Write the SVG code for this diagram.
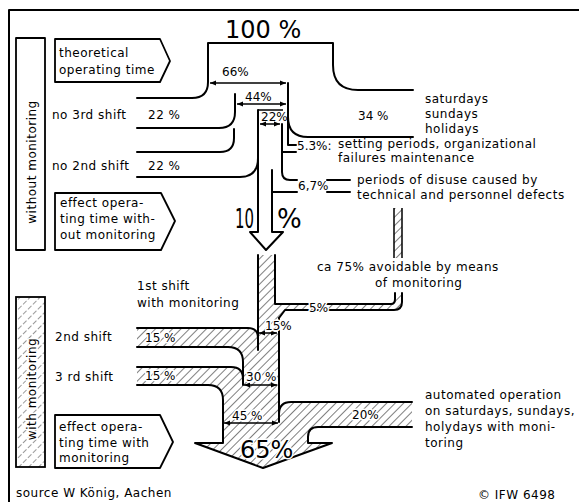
<svg xmlns="http://www.w3.org/2000/svg" width="579" height="502" viewBox="0 0 579 502">
<defs>
<style>
.t{font-family:"DejaVu Sans","Liberation Sans",sans-serif;font-size:12px;letter-spacing:0.5px;fill:#000}
.p{font-family:"DejaVu Sans","Liberation Sans",sans-serif;font-size:12px;fill:#000}
.w{stroke:#fff;stroke-width:3;paint-order:stroke;stroke-linejoin:round}
.big{font-family:"DejaVu Sans","Liberation Sans",sans-serif;fill:#000}
.ln{fill:none;stroke:#000;stroke-width:2;stroke-linecap:round;stroke-linejoin:round}
.thin{fill:none;stroke:#000;stroke-width:1.5}
.box{fill:#fff;stroke:#000;stroke-width:1.8;stroke-linejoin:round}
.dim{fill:none;stroke:#000;stroke-width:1.5;marker-start:url(#ah);marker-end:url(#ah)}
</style>
<pattern id="hatch" width="6" height="6" patternUnits="userSpaceOnUse" patternTransform="rotate(45)"><line x1="0" y1="0" x2="0" y2="6" stroke="#000" stroke-width="1"/></pattern>
<pattern id="hatch2" width="7" height="7" patternUnits="userSpaceOnUse" patternTransform="rotate(45)"><line x1="0" y1="0" x2="0" y2="7" stroke="#000" stroke-width="0.8" stroke-dasharray="3 2"/></pattern>
<marker id="ah" viewBox="0 0 6 6" refX="6" refY="3" markerWidth="6" markerHeight="6" orient="auto-start-reverse" markerUnits="userSpaceOnUse"><path d="M0,0.5 L6,3 L0,5.5 Z"/></marker>
</defs>
<rect width="579" height="502" fill="#fff"/>
<path class="ln" d="M9,502 V10 H579"/>

<g id="side-without">
<rect x="16" y="38" width="29" height="212" class="box"/>
<text class="t" transform="translate(36,162) rotate(-90)" text-anchor="middle">without monitoring</text>
</g>
<g id="side-with">
<rect x="16" y="297" width="29" height="170" fill="url(#hatch2)" stroke="#000" stroke-width="1.8"/>
<text class="t w" transform="translate(36,389) rotate(-90)" text-anchor="middle">with monitoring</text>
</g>

<g id="theoretical">
<path class="box" d="M55,39 H160 L170,61 L160,82 H55 Z"/>
<text class="t" x="59" y="57">theoretical</text>
<text class="t" x="59" y="74">operating time</text>
</g>
<g id="effect-without">
<path class="box" d="M55,193 H161 L175,221 L161,250 H55 Z"/>
<text class="t" x="60" y="207">effect opera-</text>
<text class="t" x="60" y="223">ting time with-</text>
<text class="t" x="60" y="239">out monitoring</text>
</g>
<g id="effect-with">
<path class="box" d="M55,415 H160 L173,442 L160,468 H55 Z"/>
<text class="t" x="59" y="431">effect opera-</text>
<text class="t" x="59" y="447">ting time with</text>
<text class="t" x="59" y="462">monitoring</text>
</g>

<g id="labels-left">
<text class="t" x="52" y="119">no 3rd shift</text>
<text class="t" x="148" y="119">22 %</text>
<text class="t" x="52" y="170">no 2nd shift</text>
<text class="t" x="148" y="170">22 %</text>
<text class="t" x="137" y="290">1st shift</text>
<text class="t" x="137" y="307">with monitoring</text>
<text class="t" x="55" y="341">2nd shift</text>
<text class="t" x="55" y="381">3 rd shift</text>
</g>

<g id="connectors">
<path class="ln" d="M137,98 H192 Q208,98 208,82 V43 H333 V65 Q333,90 358,90 H413"/>
<path class="ln" d="M235,94 V112 Q235,128 219,128 H137"/>
<path class="ln" d="M234,129 V138 Q234,152 220,152 H137"/>
<path class="ln" d="M258,158 Q258,177 240,177 H137"/>
<path class="ln" d="M258,110 V232 H250 L266,250 L283,232 H272 V170"/>
<path class="thin" d="M258,110 H283"/>
<path class="ln" d="M288,83 V145 H296"/>
<path class="ln" d="M288,117 Q288,137 308,137 H413"/>
<path class="ln" d="M282,124 V152 H296"/>
<path class="ln" d="M282,152 V172 Q282,180 290,180 H297"/>
<path class="ln" d="M272,192 H297"/>
<path class="ln" d="M327,180 H350 M327,192 H350"/>
<path class="dim" d="M210,83 H286"/>
<path class="dim" d="M237,104 H286"/>
<path class="dim" d="M260,124 H280"/>

<path d="M258,255 H275 V304 H391 Q395,304 395,299 V293 H402 V302 Q402,310 394,310 H285 L279,318 V414 Q279,402 291,402 H412 V427 H318 Q308,427 308,437 V443 H332 L263,468 L195,443 H223 V400 Q223,385 208,385 H137 V367 H231 Q243,367 243,379 V362 Q243,347 228,347 H137 V328 H248 Q258,328 258,338 Z" fill="url(#hatch)"/>
<path class="ln" d="M258,255 V350"/>
<path class="ln" d="M275,255 V304 H308 M327,304 H391 Q395,304 395,299 V293"/>
<path class="ln" d="M279,318 L285,310 H394 Q402,310 402,302 V293"/>
<path class="ln" d="M279,318 V422"/>
<path class="ln" d="M279,414 Q279,402 291,402 H412"/>
<path class="ln" d="M412,427 H318 Q308,427 308,437 V443 H332 L263,468 L195,443 H223 V400 Q223,385 208,385 H137"/>
<path class="ln" d="M137,367 H231 Q243,367 243,379"/>
<path class="ln" d="M137,347 H228 Q243,347 243,362 V385"/>
<path class="ln" d="M137,328 H248 Q258,328 258,338"/>
<path class="dim" d="M259,333 H277"/>
<path class="dim" d="M244,385 H277"/>
<path class="dim" d="M224,423 H278"/>
<rect x="394" y="208" width="8" height="50" fill="url(#hatch)"/>
<path class="thin" d="M394,208 V258 M402,208 V258"/>
</g>

<g id="values">
<text class="big" x="225" y="38" font-size="24">100 %</text>
<text class="p" x="222" y="76">66%</text>
<text class="p" x="245" y="101">44%</text>
<text class="p" x="261" y="121">22%</text>
<text class="p" x="358" y="120">34 %</text>
<text class="p" x="297" y="150" font-size="11">5.3%:</text>
<text class="p" x="298" y="190" font-size="11">6,7%</text>
<text class="big" x="235" y="228" font-size="26" textLength="19" lengthAdjust="spacingAndGlyphs">10</text>
<text class="big" x="277" y="228" font-size="26">%</text>
<text class="p w" x="309" y="312">5%</text>
<text class="p w" x="265" y="330">15%</text>
<text class="p w" x="145" y="342">15 %</text>
<text class="p w" x="145" y="380">15 %</text>
<text class="p w" x="246" y="381">30 %</text>
<text class="p w" x="232" y="420">45 %</text>
<text class="p w" x="352" y="419">20%</text>
<text class="big w" x="240" y="458" font-size="24">65%</text>
</g>

<g id="labels-right">
<text class="t" x="425" y="103">saturdays</text>
<text class="t" x="425" y="118">sundays</text>
<text class="t" x="425" y="133">holidays</text>
<text class="t" x="338" y="148">setting periods, organizational</text>
<text class="t" x="338" y="162">failures maintenance</text>
<text class="t" x="357" y="184">periods of disuse caused by</text>
<text class="t" x="357" y="199">technical and personnel defects</text>
<text class="t" x="317" y="271">ca 75% avoidable by means</text>
<text class="t" x="375" y="287">of monitoring</text>
<text class="t" x="425" y="399">automated operation</text>
<text class="t" x="425" y="415">on saturdays, sundays,</text>
<text class="t" x="425" y="431">holydays with moni-</text>
<text class="t" x="425" y="447">toring</text>
<text class="t" x="16" y="497">source W König, Aachen</text>
<text class="t" x="478" y="499">© IFW 6498</text>
</g>
</svg>
